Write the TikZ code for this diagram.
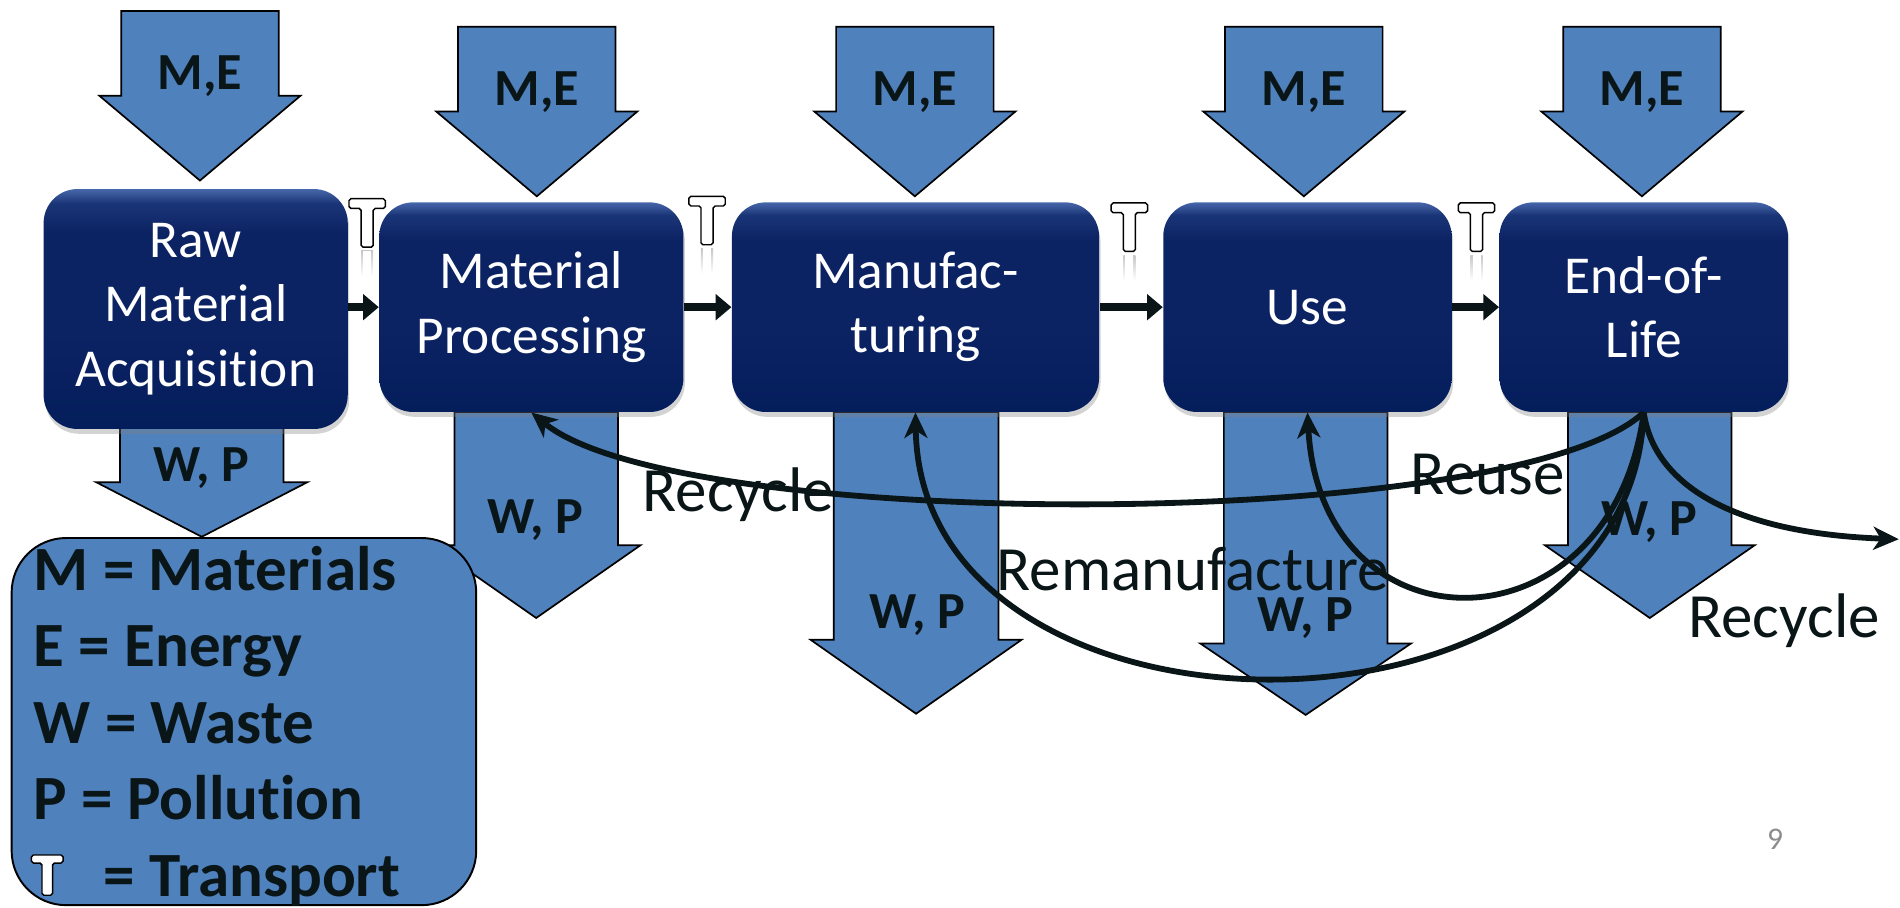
\documentclass[tikz,border=0pt]{standalone}
\usepackage{fontspec}
\setmainfont{Carlito}[Ligatures={NoCommon,NoDiscretionary}]
\usetikzlibrary{arrows.meta,shadows}
\definecolor{arrowblue}{HTML}{4F81BD}
\definecolor{ink}{HTML}{0A1518}
\definecolor{boxTop}{HTML}{4767AA}
\definecolor{boxUp}{HTML}{1A3577}
\definecolor{boxMid}{HTML}{0C2363}
\definecolor{boxBot}{HTML}{041D5B}
\pgfdeclareverticalshading{boxshade}{100bp}{color(0bp)=(boxBot); color(25bp)=(boxBot); color(45bp)=(boxMid); color(66bp)=(boxMid); color(72bp)=(boxUp); color(75bp)=(boxTop); color(100bp)=(boxTop)}
% cx, top, head start, tip, half shaft, half head
\newcommand{\blockdown}[6]{%
  \filldraw[blockarrow] ({#1-#5},#2) -- ({#1+#5},#2) -- ({#1+#5},#3) -- ({#1+#6},#3) -- (#1,#4) -- ({#1-#6},#3) -- ({#1-#5},#3) -- cycle;}
\tikzset{
  blockarrow/.style={fill=arrowblue, draw=black, line width=0.7pt, line join=miter},
  inlabel/.style={text=ink, font=\fontsize{21.5}{26}\selectfont\bfseries, inner sep=0pt},
  stage/.style={shade, shading=boxshade, rounded corners=14pt, inner sep=0pt, text=white, align=center,
    font=\fontsize{22}{26.5}\selectfont, drop shadow={shadow xshift=0.6pt, shadow yshift=-2pt, opacity=0.35}},
  flow/.style={draw=ink, line width=3.2pt, -{Triangle[length=6.5pt,width=10.5pt]}},
  cyc/.style={draw=ink, line width=2.4pt, -{Stealth[length=10.5pt,width=9.5pt,inset=3pt]}},
  lbl/.style={text=ink, font=\fontsize{26}{30}\selectfont, inner sep=0pt, anchor=base west},
  legtext/.style={text=ink, font=\fontsize{26}{31}\selectfont\bfseries, inner sep=0pt, anchor=base west},
  tsym/.pic={
    \filldraw[fill=white, draw=black, line width=0.6pt, rounded corners=0.8pt]
      (-15,0) -- (15,0) -- (15,8) -- (5,8) -- (5,40) -- (-5,40) -- (-5,8) -- (-15,8) -- cycle;},
  tshadow/.pic={
    \shade[top color=black!22, bottom color=white] (-5,43) rectangle (5,64);
    \fill[white] (-3.3,43) rectangle (3.3,64);}
}
\begin{document}
\begin{tikzpicture}[x=0.5pt,y=-0.5pt]
\useasboundingbox (0,0) rectangle (1568,749);
% input arrows
\blockdown{165}{9}{79}{149}{65}{83}
\blockdown{443}{22}{92}{162}{65}{83}
\blockdown{755}{22}{92}{162}{65}{83}
\blockdown{1076}{22}{92}{162}{65}{83}
\blockdown{1355}{22}{92}{162}{65}{83}
\node[inlabel] (me1) at (165,63) {M,E};
\node[inlabel] (me2) at (443,76) {M,E};
\node[inlabel] (me3) at (755,76) {M,E};
\node[inlabel] (me4) at (1076,76) {M,E};
\node[inlabel] (me5) at (1355,76) {M,E};
% output arrows
\blockdown{166.5}{352}{398}{443}{67.5}{87}
\blockdown{442.5}{340}{450}{510}{67.5}{86}
\blockdown{756}{340}{528}{589}{68}{87}
\blockdown{1077.5}{340}{531}{590}{67.5}{87}
\blockdown{1361.5}{340}{450}{510}{67.5}{86.5}
\node[inlabel] (wp1) at (166,386) {W, P};
\node[inlabel] (wp2) at (442,429) {W, P};
\node[inlabel] (wp3) at (757,508) {W, P};
\node[inlabel] (wp4) at (1077,510) {W, P};
\node[inlabel] (wp5) at (1361,431) {W, P};
% stages
\node[stage, minimum width=125.5pt, minimum height=99pt] (b1) at (161.5,255) {Raw\\Material\\Acquisition};
\node[stage, minimum width=125.5pt, minimum height=86.5pt] (b2) at (438.5,253.5) {Material\\Processing};
\node[stage, minimum width=151.5pt, minimum height=86.5pt] (b3) at (755.5,253.5) {Manufac-\\turing};
\node[stage, minimum width=119pt, minimum height=86.5pt] (b4) at (1079,253.5) {Use};
\node[stage, minimum width=119pt, minimum height=86.5pt] (b5) at (1356.5,253.5) {End-of-\\Life};
% flow arrows
\draw[flow] (b1.east |- b2.west) -- (b2.west);
\draw[flow] (b2.east) -- (b3.west);
\draw[flow] (b3.east) -- (b4.west);
\draw[flow] (b4.east) -- (b5.west);
% transport symbols
\pic at (303,164) {tshadow};
\pic at (303,164) {tsym};
\pic at (583.5,162) {tshadow};
\pic at (583.5,162) {tsym};
\pic at (932,167.5) {tshadow};
\pic at (932,167.5) {tsym};
\pic at (1218.5,167.5) {tshadow};
\pic at (1218.5,167.5) {tsym};
% end-of-life loops
\draw[cyc] (b5.south) .. controls (1250,440) and (560,440) .. (b2.south);
\draw[cyc] (b5.south) .. controls (1330,542) and (1090,542) .. (b4.south);
\draw[cyc] (b5.south) .. controls (1345,632) and (760,632) .. (b3.south);
\coordinate (out) at (1567,445);
\draw[cyc] (b5.south) .. controls (1365,400) and (1430,440) .. (out);
% loop labels
\node[lbl] (lrec) at (530,422) {Recycle};
\node[lbl] (lreu) at (1164,408) {Reuse};
\node[lbl] (lrem) at (822,487) {Remanufacture};
\node[lbl] (lrec2) at (1393,526) {Recycle};
% legend
\node[draw=black, fill=arrowblue, line width=0.8pt, rounded corners=22.5pt, minimum width=191.7pt, minimum height=151.5pt, inner sep=0pt] (legend) at (201.3,595.5) {};
\node[legtext] (lm) at (27.5,487.5) {M = Materials};
\node[legtext] (le) at (27.5,550) {E = Energy};
\node[legtext] (lw) at (27.5,613.5) {W = Waste};
\node[legtext] (lp) at (27.5,676.7) {P = Pollution};
\pic[xscale=0.87, yscale=0.83] at (39,705.6) {tsym};
\node[legtext] (lt) at (85,740) {= Transport};
% page number
\node[text=black!45, font=\fontsize{13}{15}\selectfont, inner sep=0pt] (pg) at (1465,693) {9};
\end{tikzpicture}
\end{document}
